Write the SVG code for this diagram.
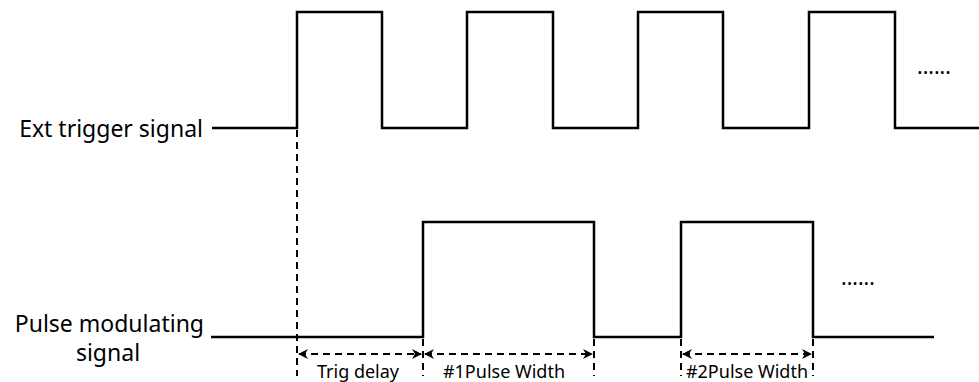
<svg xmlns="http://www.w3.org/2000/svg" width="979" height="382" viewBox="0 0 979 382">
<style>
.sig{fill:none;stroke:#000;stroke-width:2.5;stroke-linejoin:miter}
.dash{fill:none;stroke:#000;stroke-width:2;stroke-dasharray:7,5}
.dim{fill:none;stroke:#000;stroke-width:2;stroke-dasharray:7,5}
.lbl{font-family:"Noto Sans","Open Sans",sans-serif;font-size:23px;fill:#000}
.sm{font-family:"Noto Sans","Open Sans",sans-serif;font-size:18px;fill:#000}
.dots{font-family:"Noto Sans",sans-serif;font-size:21px;fill:#000}
</style>
<defs>
<marker id="ah" viewBox="0 0 10 10" refX="9" refY="5" markerWidth="5" markerHeight="5" orient="auto-start-reverse" markerUnits="strokeWidth">
<path d="M0,0 L10,5 L0,10 L3,5 Z" fill="#000"/>
</marker>
</defs>
<g id="ext-trigger">
<text class="lbl" x="203" y="137" text-anchor="end">Ext trigger signal</text>
<path class="sig" d="M212,128 H297 V12 H382 V128 H467 V12 H553 V128 H638 V12 H723 V128 H809 V12 H895 V128 H979"/>
<text class="dots" x="917" y="74">......</text>
</g>
<g id="pulse-mod">
<text class="lbl" x="204" y="332" text-anchor="end">Pulse modulating</text>
<text class="lbl" x="108" y="361" text-anchor="middle">signal</text>
<path class="sig" d="M211,337 H423 V222 H594 V337 H681 V222 H813 V337 H934"/>
<text class="dots" x="841" y="285">......</text>
</g>
<g id="connectors">
<line class="dash" x1="297" y1="130" x2="297" y2="376"/>
<line class="dash" x1="423" y1="339" x2="423" y2="376"/>
<line class="dash" x1="594" y1="339" x2="594" y2="376"/>
<line class="dash" x1="681" y1="339" x2="681" y2="376"/>
<line class="dash" x1="813" y1="339" x2="813" y2="376"/>
<line class="dim" x1="299" y1="354" x2="421" y2="354" marker-start="url(#ah)" marker-end="url(#ah)"/>
<line class="dim" x1="425" y1="354" x2="592" y2="354" marker-start="url(#ah)" marker-end="url(#ah)"/>
<line class="dim" x1="683" y1="354" x2="811" y2="354" marker-start="url(#ah)" marker-end="url(#ah)"/>
</g>
<g id="dim-labels">
<text class="sm" x="358" y="378" text-anchor="middle">Trig delay</text>
<text class="sm" x="504" y="378" text-anchor="middle">#1Pulse Width</text>
<text class="sm" x="747" y="378" text-anchor="middle">#2Pulse Width</text>
</g>
</svg>
